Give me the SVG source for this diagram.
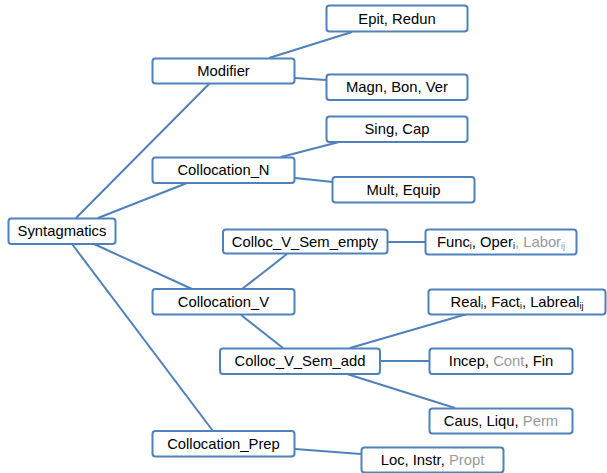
<svg xmlns="http://www.w3.org/2000/svg" width="607" height="473" viewBox="0 0 607 473">
<style>
.n rect{fill:#fff;stroke:#4f81bd;stroke-width:2}
.n text{font-family:"Liberation Sans",Arial,sans-serif;font-size:14.8px;fill:#000;text-anchor:middle}
.g{fill:#999}
.s{font-size:9px}
#edges line{stroke:#4f81bd;stroke-width:2}
</style>
<rect width="607" height="473" fill="#fff"/>
<g id="edges">
<line x1="76" y1="218" x2="210" y2="83"/>
<line x1="98" y1="218" x2="187" y2="183"/>
<line x1="94" y1="244" x2="192" y2="289"/>
<line x1="72" y1="244" x2="213" y2="431"/>
<line x1="269" y1="58" x2="352" y2="32"/>
<line x1="295" y1="78" x2="326" y2="80"/>
<line x1="281" y1="157" x2="339" y2="142"/>
<line x1="295" y1="178" x2="333" y2="182"/>
<line x1="242" y1="289" x2="287" y2="254"/>
<line x1="241" y1="315" x2="283" y2="348"/>
<line x1="388" y1="242" x2="425" y2="242"/>
<line x1="350" y1="348" x2="467" y2="314"/>
<line x1="380" y1="361" x2="429" y2="361"/>
<line x1="347" y1="374" x2="455" y2="408"/>
<line x1="295" y1="449" x2="361" y2="454"/>
</g>
<g id="syntagmatics" class="n"><rect x="8.5" y="218.5" width="107" height="25.5" rx="3"/><text x="62" y="236">Syntagmatics</text></g>
<g id="modifier" class="n"><rect x="152.5" y="58.5" width="142" height="25" rx="3"/><text x="223.5" y="76">Modifier</text></g>
<g id="collocation_n" class="n"><rect x="152.5" y="157.5" width="142" height="25.5" rx="3"/><text x="223.5" y="175">Collocation_N</text></g>
<g id="collocation_v" class="n"><rect x="152.5" y="289" width="142" height="25.5" rx="3"/><text x="223.5" y="306.5">Collocation_V</text></g>
<g id="collocation_prep" class="n"><rect x="152.5" y="431" width="142" height="25.5" rx="3"/><text x="223.5" y="448.5">Collocation_Prep</text></g>
<g id="epit" class="n"><rect x="326.5" y="5.5" width="141" height="26" rx="3"/><text x="397" y="23.5">Epit, Redun</text></g>
<g id="magn" class="n"><rect x="326.5" y="74.5" width="141" height="25.5" rx="3"/><text x="397" y="92">Magn, Bon, Ver</text></g>
<g id="sing" class="n"><rect x="326.5" y="116.5" width="141" height="25.5" rx="3"/><text x="397" y="134">Sing, Cap</text></g>
<g id="mult" class="n"><rect x="332.5" y="177" width="142" height="25.5" rx="3"/><text x="403.5" y="194.5">Mult, Equip</text></g>
<g id="sem_empty" class="n"><rect x="223" y="229.5" width="164.5" height="24" rx="3"/><text x="305" y="246.5">Colloc_V_Sem_empty</text></g>
<g id="sem_add" class="n"><rect x="220" y="348.5" width="160" height="25.5" rx="3"/><text x="300" y="366">Colloc_V_Sem_add</text></g>
<g id="func" class="n"><rect x="425.5" y="229.5" width="151" height="25" rx="3"/><text x="501" y="247">Func<tspan class="s" dy="2">i</tspan><tspan dy="-2">, Oper</tspan><tspan class="s" dy="2">i</tspan><tspan class="g" dy="-2">, Labor</tspan><tspan class="g s" dy="2">ij</tspan></text></g>
<g id="real" class="n"><rect x="428.5" y="289.5" width="177" height="25" rx="3"/><text x="517" y="307">Real<tspan class="s" dy="2">i</tspan><tspan dy="-2">, Fact</tspan><tspan class="s" dy="2">i</tspan><tspan dy="-2">, Labreal</tspan><tspan class="s" dy="2">ij</tspan></text></g>
<g id="incep" class="n"><rect x="429.5" y="348.5" width="143" height="25.5" rx="3"/><text x="501" y="366">Incep, <tspan class="g">Cont</tspan>, Fin</text></g>
<g id="caus" class="n"><rect x="429.5" y="408.5" width="143" height="25" rx="3"/><text x="501" y="426">Caus, Liqu, <tspan class="g">Perm</tspan></text></g>
<g id="loc" class="n"><rect x="361.5" y="447.5" width="142" height="25" rx="3"/><text x="432.5" y="465">Loc, Instr, <tspan class="g">Propt</tspan></text></g>
</svg>
